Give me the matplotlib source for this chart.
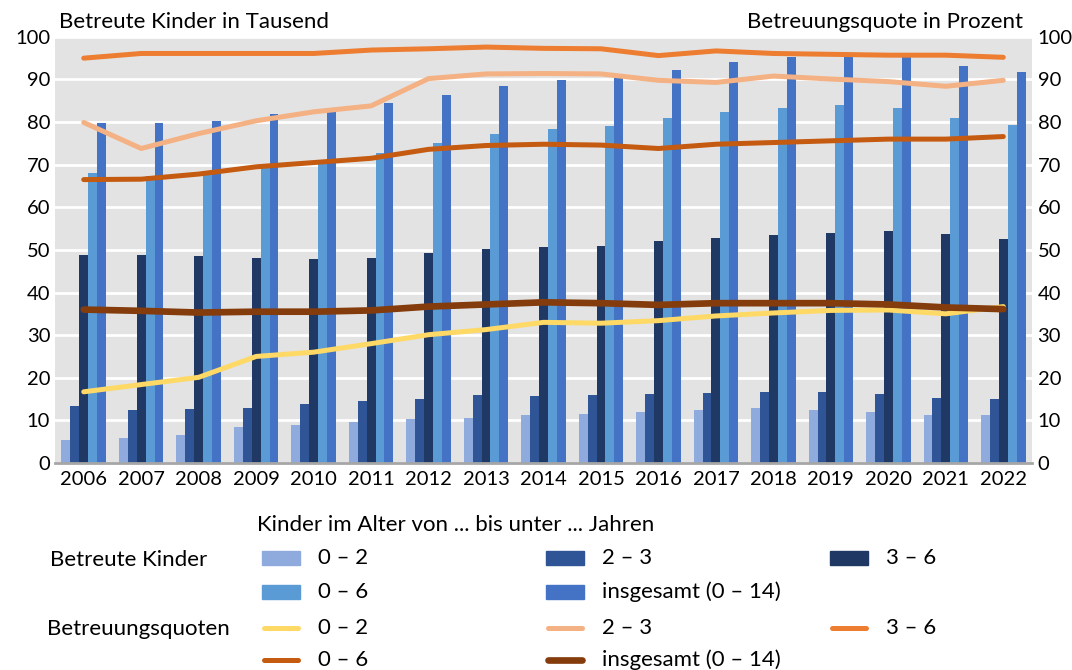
import numpy as np
import matplotlib
matplotlib.use("Agg")
import matplotlib.pyplot as plt
from matplotlib.patches import Rectangle
from matplotlib.lines import Line2D

plt.rcParams['font.family'] = ['Lato', 'DejaVu Sans']

years = [str(y) for y in range(2006, 2023)]

# betreute Kinder in Tausend
kinder_0_2 = [5.5, 5.9, 6.5, 8.4, 8.8, 9.5, 10.3, 10.6, 11.3, 11.6, 12.0, 12.5, 12.8, 12.5, 12.0, 11.3, 11.3]
kinder_2_3 = [13.3, 12.5, 12.6, 12.9, 13.9, 14.5, 15.1, 15.9, 15.6, 15.9, 16.2, 16.4, 16.7, 16.7, 16.3, 15.3, 14.9]
kinder_3_6 = [48.7, 48.7, 48.5, 48.2, 47.9, 48.2, 49.2, 50.2, 50.7, 50.9, 52.2, 52.7, 53.4, 54.0, 54.4, 53.8, 52.6]
kinder_0_6 = [68.0, 67.4, 67.6, 69.5, 71.0, 72.7, 75.1, 77.1, 78.4, 79.0, 80.9, 82.3, 83.4, 83.9, 83.3, 81.0, 79.4]
kinder_ges = [79.9, 79.7, 80.2, 81.9, 82.3, 84.4, 86.3, 88.4, 89.8, 90.4, 92.3, 94.2, 95.3, 95.3, 95.2, 93.1, 91.8]

# Betreuungsquoten in Prozent
quote_0_2 = [16.7, 18.4, 20.1, 25.0, 26.0, 28.0, 30.1, 31.3, 33.0, 32.8, 33.4, 34.5, 35.2, 35.8, 35.9, 35.0, 36.7]
quote_2_3 = [79.9, 73.8, 77.3, 80.3, 82.4, 83.8, 90.2, 91.3, 91.4, 91.3, 89.8, 89.3, 90.8, 90.1, 89.5, 88.4, 89.8]
quote_3_6 = [95.0, 96.1, 96.1, 96.1, 96.1, 96.9, 97.2, 97.6, 97.3, 97.2, 95.6, 96.7, 96.1, 95.9, 95.7, 95.7, 95.2]
quote_0_6 = [66.5, 66.6, 67.8, 69.5, 70.5, 71.5, 73.6, 74.5, 74.8, 74.6, 73.8, 74.8, 75.2, 75.6, 76.0, 76.0, 76.6]
quote_ges = [36.0, 35.7, 35.3, 35.5, 35.5, 35.8, 36.7, 37.2, 37.7, 37.5, 37.1, 37.5, 37.5, 37.5, 37.2, 36.5, 36.1]

bar_series = [kinder_0_2, kinder_2_3, kinder_3_6, kinder_0_6, kinder_ges]
bar_colors = ['#8faadc', '#2f5597', '#203864', '#5b9bd5', '#4472c4']
line_series = [quote_0_2, quote_2_3, quote_3_6, quote_0_6, quote_ges]
line_colors = ['#ffd966', '#f4b183', '#ed7d31', '#c55a11', '#843c0c']
line_widths = [3.6, 3.6, 3.6, 3.6, 4.8]

fig = plt.figure(figsize=(10.72, 6.70), dpi=100)
ax = fig.add_axes([0.0513, 0.309, 0.9114, 0.636])
ax.set_facecolor('#e3e3e3')

x = np.arange(len(years))
w = 0.155
for i, (vals, col) in enumerate(zip(bar_series, bar_colors)):
    ax.bar(x + (i - 2) * w, vals, width=w, color=col, zorder=2)

for vals, col, lw in zip(line_series, line_colors, line_widths):
    ax.plot(x, vals, color=col, lw=lw, solid_capstyle='round', solid_joinstyle='round', zorder=3)

ax.set_xlim(-0.5, 16.5)
ax.set_ylim(0, 100)
ax.set_yticks(range(0, 101, 10))
ax.yaxis.grid(True, color='white', lw=2)
ax.set_axisbelow(True)
ax.set_xticks(x)
ax.set_xticklabels(years)
ax.tick_params(axis='both', length=0, labelsize=14.5, colors='#000000')
ax.tick_params(axis='x', pad=6)
for s in ['top', 'left', 'right']:
    ax.spines[s].set_visible(False)
ax.spines['bottom'].set_color('#a6a6a6')
ax.spines['bottom'].set_linewidth(2)

ax2 = ax.twinx()
ax2.set_ylim(0, 100)
ax2.set_yticks(range(0, 101, 10))
ax2.tick_params(axis='y', length=0, labelsize=14.5, pad=4)
for s in ax2.spines.values():
    s.set_visible(False)

fig.text(59 / 1072, 1 - 22 / 670, 'Betreute Kinder in Tausend', fontsize=16, va='center', ha='left')
fig.text(1023 / 1072, 1 - 22 / 670, 'Betreuungsquote in Prozent', fontsize=16, va='center', ha='right')

# Legende
def fx(px):
    return px / 1072

def fy(py):
    return 1 - py / 670

fs = 16
fig.text(fx(257), fy(525), 'Kinder im Alter von ... bis unter ... Jahren', fontsize=fs, va='center')
fig.text(fx(50), fy(560), 'Betreute Kinder', fontsize=fs, va='center')
fig.text(fx(47), fy(629), 'Betreuungsquoten', fontsize=fs, va='center')

col_x = [262, 546, 830]
bar_pos = [(0, 558), (1, 558), (2, 558), (0, 592), (1, 592)]
labels = ['0 – 2', '2 – 3', '3 – 6', '0 – 6', 'insgesamt (0 – 14)']
for (c, py), col, lab in zip(bar_pos, bar_colors, labels):
    fig.patches.append(Rectangle((fx(col_x[c]), fy(py + 7)), fx(38), 14 / 670,
                                 transform=fig.transFigure, color=col))
    fig.text(fx(col_x[c] + 56), fy(py), lab, fontsize=fs, va='center')

line_pos = [(0, 628), (1, 628), (2, 628), (0, 660), (1, 660)]
for (c, py), col, lw, lab in zip(line_pos, line_colors, line_widths, labels):
    fig.add_artist(Line2D([fx(col_x[c] + 2), fx(col_x[c] + 36)], [fy(py), fy(py)],
                          transform=fig.transFigure, color=col, lw=lw, solid_capstyle='round'))
    fig.text(fx(col_x[c] + 56), fy(py), lab, fontsize=fs, va='center')

fig.savefig('out.png', dpi=100)
